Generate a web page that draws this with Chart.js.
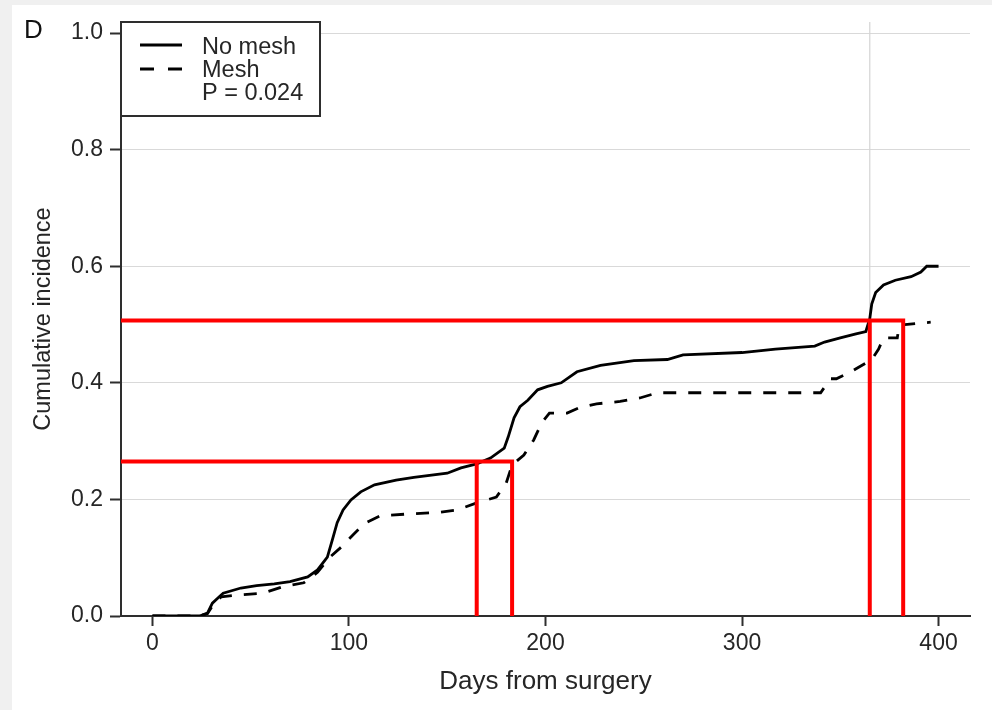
<!DOCTYPE html>
<html><head><meta charset="utf-8">
<script src="https://cdn.jsdelivr.net/npm/chart.js@4.4.0/dist/chart.umd.min.js"></script>
<style>
html,body{margin:0;padding:0;background:#f0f0f0;width:992px;height:710px;overflow:hidden}
#panel{position:absolute;left:12px;top:5px;width:980px;height:705px;background:#fff}
canvas{display:block}
</style></head><body>
<div id="panel"><canvas id="c" width="980" height="705"></canvas></div>
<script>
const panelLabel = 'D';
const seriesNames = ['No mesh', 'Mesh'];
const pValueText = 'P = 0.024';
const xTitle = 'Days from surgery';
const yTitle = 'Cumulative incidence';
const xTickValues = [0, 100, 200, 300, 400];
const yTickValues = [0, 0.2, 0.4, 0.6, 0.8, 1.0];

const noMeshDays = [0,24,28,30.5,34,36,45,53,62,70,79,84,89,91.5,94,97,101,106,113,124,133,150,157,165,172,179,181,184,187,191,196,201,208,216,228,245,262,270,300,317,337,342,350,358,363,365,366,368,372,378,386,391,394,400];
const noMeshIncidence = [0,0,0.005,0.022,0.033,0.039,0.048,0.052,0.055,0.059,0.067,0.079,0.101,0.13,0.16,0.182,0.199,0.213,0.225,0.233,0.238,0.245,0.254,0.261,0.271,0.288,0.307,0.34,0.359,0.37,0.388,0.394,0.40,0.419,0.43,0.438,0.44,0.448,0.452,0.458,0.463,0.47,0.477,0.484,0.488,0.51,0.535,0.555,0.568,0.576,0.582,0.59,0.60,0.60];

const meshDays = [0,24,28,31,35,43,56,67,77,84,90,96,102,108,116,130,146,155,165,175,180,183,189,194,198,202,211,217,226,238,248,257,340,345,348,356,366,369.5,372,379,380,396];
const meshIncidence = [0,0,0.004,0.02,0.033,0.036,0.039,0.051,0.057,0.075,0.10,0.118,0.139,0.159,0.172,0.175,0.178,0.182,0.194,0.204,0.228,0.259,0.276,0.302,0.331,0.348,0.348,0.357,0.364,0.368,0.374,0.383,0.383,0.407,0.407,0.42,0.44,0.458,0.477,0.477,0.499,0.504];

// reference markers (red lines) and 1-year landmark
const markerLevels = [0.265, 0.507];
const markerNoMeshDays = [165, 365];
const markerMeshDays = [183, 382];
const landmarkDay = 365;

const X_MIN = -16, X_MAX = 416, Y_MIN = 0, Y_MAX = 1.019;

const toPts = (xs, ys) => xs.map((x, i) => ({x, y: ys[i]}));
const FONT = "'Liberation Sans', Arial, sans-serif";
const TXT = '#262626';
const AX = '#2e2e2e';

const datasets = [
  {label: seriesNames[0], data: toPts(noMeshDays, noMeshIncidence), borderColor: '#000', borderWidth: 2.8, pointRadius: 0, tension: 0, order: 2},
  {label: seriesNames[1], data: toPts(meshDays, meshIncidence), borderColor: '#000', borderWidth: 2.8, borderDash: [13, 12], pointRadius: 0, tension: 0, order: 2},
  {label: 'landmark', data: [{x: landmarkDay, y: Y_MAX}, {x: landmarkDay, y: Y_MIN}], borderColor: '#d4d4d4', borderWidth: 1.2, pointRadius: 0, order: 3}
];
markerLevels.forEach((lv, i) => {
  datasets.push({label: 'marker', data: [{x: X_MIN, y: lv}, {x: markerMeshDays[i], y: lv}, {x: markerMeshDays[i], y: Y_MIN}], borderColor: '#ff0000', borderWidth: 4, pointRadius: 0, order: 1, clip: 0});
  datasets.push({label: 'marker', data: [{x: markerNoMeshDays[i], y: lv}, {x: markerNoMeshDays[i], y: Y_MIN}], borderColor: '#ff0000', borderWidth: 4, pointRadius: 0, order: 1, clip: 0});
});

const boxLegend = {
  id: 'boxLegend',
  afterDraw(chart) {
    const {ctx, chartArea} = chart;
    const x0 = chartArea.left, y0 = chartArea.top, w = 199, h = 94;
    ctx.save();
    ctx.fillStyle = '#fff';
    ctx.fillRect(x0, y0, w, h);
    ctx.strokeStyle = AX; ctx.lineWidth = 2;
    ctx.strokeRect(x0, y0, w, h);
    ctx.strokeStyle = '#000'; ctx.lineWidth = 2.8;
    ctx.beginPath(); ctx.moveTo(x0 + 19, y0 + 23); ctx.lineTo(x0 + 61, y0 + 23); ctx.stroke();
    ctx.setLineDash([14, 14]);
    ctx.beginPath(); ctx.moveTo(x0 + 19, y0 + 47); ctx.lineTo(x0 + 61, y0 + 47); ctx.stroke();
    ctx.setLineDash([]);
    ctx.fillStyle = TXT; ctx.font = '23.5px ' + FONT; ctx.textBaseline = 'middle'; ctx.textAlign = 'left';
    ctx.fillText(seriesNames[0], x0 + 81, y0 + 26);
    ctx.fillText(seriesNames[1], x0 + 81, y0 + 49);
    ctx.fillText(pValueText, x0 + 81, y0 + 72);
    ctx.font = '26px ' + FONT; ctx.textBaseline = 'alphabetic'; ctx.fillStyle = '#111';
    ctx.fillText(panelLabel, 12, 33);
    ctx.restore();
  }
};

new Chart(document.getElementById('c'), {
  type: 'line',
  data: {datasets},
  plugins: [boxLegend],
  options: {
    responsive: false, animation: false, devicePixelRatio: 1,
    layout: {padding: {left: 0, top: 17, right: 22, bottom: 0}},
    plugins: {legend: {display: false}, tooltip: {enabled: false}},
    scales: {
      x: {
        type: 'linear', min: X_MIN, max: X_MAX,
        afterFit: s => { s.height = 94; s.paddingLeft = 0; s.paddingRight = 0; },
        afterBuildTicks: s => { s.ticks = xTickValues.map(v => ({value: v})); },
        ticks: {font: {size: 23, family: FONT}, color: TXT, padding: 4, callback: v => String(v)},
        grid: {drawOnChartArea: false, tickLength: 10, tickColor: AX, tickWidth: 2},
        border: {color: AX, width: 2},
        title: {display: true, text: xTitle, font: {size: 26, family: FONT}, color: TXT, padding: {top: 0, bottom: 13}}
      },
      y: {
        type: 'linear', min: Y_MIN, max: Y_MAX,
        afterFit: s => { s.width = 109; s.paddingTop = 0; s.paddingBottom = 0; },
        afterBuildTicks: s => { s.ticks = yTickValues.map(v => ({value: v})); },
        ticks: {font: {size: 23, family: FONT}, color: TXT, padding: 7, callback: v => v.toFixed(1)},
        grid: {color: '#d9d9d9', lineWidth: 1, tickLength: 11, tickColor: AX, tickWidth: 2},
        border: {color: AX, width: 2},
        title: {display: true, text: yTitle, font: {size: 23.5, family: FONT}, color: TXT, padding: {top: 17, bottom: 0}}
      }
    }
  }
});
</script>
</body></html>
